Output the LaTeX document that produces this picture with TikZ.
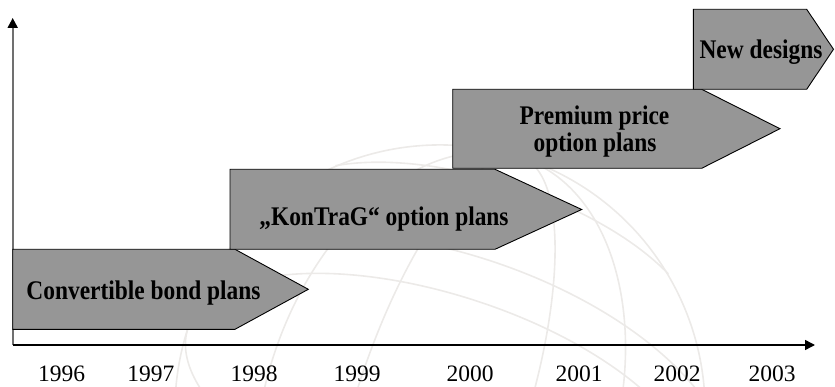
\documentclass[tikz,border=0pt]{standalone}
\usepackage{fontspec}
\setmainfont{Liberation Serif}
\usetikzlibrary{arrows.meta}
\definecolor{boxgray}{RGB}{150,150,150}
\definecolor{axisgray}{RGB}{112,112,112}
\definecolor{globe}{RGB}{236,234,232}
\newcommand{\tallbold}[1]{\scalebox{1}[1.15]{#1}}
\tikzset{
  stage/.style={fill=boxgray, draw=black, line width=0.9pt, line join=miter},
  stagetext/.style={font=\fontsize{23.4}{28}\selectfont\bfseries, anchor=base, inner sep=0pt, align=center},
  yeartext/.style={font=\fontsize{23.5}{28}\selectfont, anchor=base, inner sep=0pt},
  globeline/.style={draw=globe, line width=1.6pt},
}
\begin{document}
\begin{tikzpicture}[x=1pt,y=-1pt]
\useasboundingbox (0,0) rectangle (835,387);
% faint globe in the background
\begin{scope}
\clip (0,0) rectangle (835,387);
\begin{scope}[shift={(440,410)}, rotate=-18]
\draw[globeline] (0,0) circle (265);
\draw[globeline] (0,0) ellipse (85 and 265);
\draw[globeline] (0,0) ellipse (175 and 265);
\draw[globeline] (0,0) ellipse (265 and 115);
\draw[globeline] (-250,-90) .. controls (-130,-180) and (130,-180) .. (250,-90);
\draw[globeline] (-175,-200) .. controls (-85,-248) and (85,-248) .. (175,-200);
\end{scope}
\end{scope}
% axes
\coordinate (origin) at (12.7,345);
\coordinate (ytip) at (12.7,18);
\coordinate (xtip) at (815,345);
\draw[axisgray, line width=2pt, -{Triangle[width=10pt,length=10pt,fill=black,color=black]}] (origin) -- (ytip);
\draw[black, line width=1.5pt, -{Triangle[width=10pt,length=10pt]}] (origin) -- (xtip);
% stages
\draw[stage] (12.7,249.3) -- (235,249.3) -- (308.3,289.3) -- (235,329.3) -- (12.7,329.3) -- cycle;
\draw[stage] (230,169.3) -- (495,169.3) -- (581.7,209.5) -- (495,249.3) -- (230,249.3) -- cycle;
\draw[stage] (452.7,89.3) -- (701.7,89.3) -- (780,128.7) -- (701.7,168.3) -- (452.7,168.3) -- cycle;
\draw[stage] (693.3,9.3) -- (806.7,9.3) -- (833.5,49.3) -- (806.7,89.3) -- (693.3,89.3) -- cycle;
\node[stagetext] (s1) at (143.5,299) {\tallbold{Convertible bond plans}};
\node[stagetext] (s2) at (384,226) {\tallbold{„KonTraG“ option plans}};
\node[stagetext] (s3a) at (594.5,124.3) {\tallbold{Premium price}};
\node[stagetext] (s3b) at (595,152) {\tallbold{option plans}};
\node[stagetext] (s4) at (761,58.3) {\tallbold{New designs}};
% years
\node[yeartext] (y1996) at (61.7,381.7) {1996};
\node[yeartext] (y1997) at (150.8,381.7) {1997};
\node[yeartext] (y1998) at (254,381.7) {1998};
\node[yeartext] (y1999) at (357,381.7) {1999};
\node[yeartext] (y2000) at (470,381.7) {2000};
\node[yeartext] (y2001) at (579,381.7) {2001};
\node[yeartext] (y2002) at (677,381.7) {2002};
\node[yeartext] (y2003) at (772,381.7) {2003};
\end{tikzpicture}
\end{document}
